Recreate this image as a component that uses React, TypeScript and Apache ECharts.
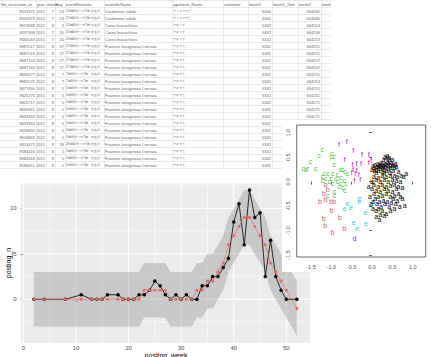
import React, { useEffect, useRef } from 'react';
import * as echarts from 'echarts';

// ---------- time series (posting_n by posting_week) ----------
const weeks = [2, 4, 8, 11, 13, 14, 15, 16, 18, 19, 20, 21, 22, 23, 24, 25, 26, 27, 28, 29, 30, 31, 32, 33, 34, 35, 36, 37, 38, 39, 40, 41, 42, 43, 44, 45, 46, 47, 48, 49, 50, 52];
const observedPosts = [0, 0, 0, 0.5, 0, 0, 0, 0.5, 0.5, 0, 0, 0, 0.5, 0.5, 1, 2, 1.5, 0.5, 0, 0.5, 0, 0.5, 0, 0, 1.5, 1.5, 2.5, 2.5, 3.5, 4.5, 8.5, 10.5, 6, 12, 9, 9.5, 2.5, 6.5, 2.5, 1, 0, 0];
const predictedPosts = [0, 0, 0, 0, 0, 0, 0, 0, 0, 0, 0, 0, 0, 1, 1, 1, 1, 1, 0, 0, 0, 0, 0, 1, 1, 2, 2, 3, 4, 6, 7, 8, 9, 9, 8, 7, 6, 4, 3, 2, 1, -1];
const bandUpper = [3, 3, 3, 3, 3, 3, 3, 3, 3, 3, 3, 3, 3, 4, 4, 4, 4, 4, 3, 3, 3, 3, 3, 4, 4, 5, 5, 6, 7, 9, 10, 11, 12, 12, 11, 10, 9, 7, 6, 5, 4, 2];
const bandLower = [-3, -3, -3, -3, -3, -3, -3, -3, -3, -3, -3, -3, -3, -2, -2, -2, -2, -2, -3, -3, -3, -3, -3, -2, -2, -1, -1, 0, 1, 3, 4, 5, 6, 6, 5, 4, 3, 1, 0, -1, -2, -4];
const weekTicks = [0, 10, 20, 30, 40, 50];
const weekMinor = [5, 15, 25, 35, 45];
const postTicks = [0, 5, 10];
const postMinor = [-2.5, 2.5, 7.5, 12.5];

// ---------- scatter (letters by group) ----------
const scatterTicks = [-1.5, -1, -0.5, 0, 0.5, 1];
const groupA = [
  [0.02, 0.32], [0.05, 0.28], [0.08, 0.35], [0.1, 0.25], [0.12, 0.3], [0.14, 0.38], [0.16, 0.22], [0.18, 0.33], [0.2, 0.27], [0.22, 0.4],
  [0.24, 0.3], [0.25, 0.2], [0.27, 0.35], [0.28, 0.45], [0.3, 0.25], [0.31, 0.38], [0.33, 0.3], [0.35, 0.5], [0.36, 0.22], [0.38, 0.42],
  [0.4, 0.32], [0.41, 0.26], [0.43, 0.46], [0.45, 0.36], [0.46, 0.28], [0.48, 0.4], [0.5, 0.32], [0.52, 0.22], [0.54, 0.36], [0.56, 0.28],
  [0.6, 0.3], [0.65, 0.2], [0.38, 0.54], [0.32, 0.52], [0.42, 0.5], [0.26, 0.28], [0.2, 0.35], [0.15, 0.3], [0.06, 0.22], [0.0, 0.25],
  [0.1, 0.18], [0.3, 0.18], [0.44, 0.18], [0.35, 0.35], [0.28, 0.32], [0.4, 0.4], [0.5, 0.45], [0.58, 0.38],
  [0.0, 0.0], [0.05, -0.05], [0.1, 0.05], [0.15, -0.1], [0.2, 0.0], [0.25, -0.05], [0.3, 0.05], [0.35, -0.1], [0.4, 0.0], [0.45, -0.08],
  [0.5, 0.05], [0.55, -0.05], [0.6, 0.02], [0.65, -0.1], [0.7, 0.0], [0.75, -0.12], [0.0, -0.15], [0.05, -0.25], [0.1, -0.18], [0.15, -0.3],
  [0.2, -0.2], [0.25, -0.28], [0.3, -0.15], [0.35, -0.25], [0.4, -0.18], [0.45, -0.3], [0.5, -0.2], [0.55, -0.28], [0.6, -0.15], [0.65, -0.25],
  [0.7, -0.3], [-0.05, -0.3], [-0.08, -0.1], [0.02, -0.4], [0.08, -0.35], [0.12, -0.45], [0.18, -0.4], [0.22, -0.5], [0.28, -0.38], [0.32, -0.45],
  [0.38, -0.4], [0.42, -0.5], [0.48, -0.42], [0.52, -0.35], [0.58, -0.45], [0.62, -0.38], [0.68, -0.5], [0.75, -0.35], [0.8, -0.48], [0.84, 0.17],
  [0.78, 0.1], [0.72, 0.12], [0.1, -0.6], [0.15, -0.55], [0.2, -0.68], [0.25, -0.6], [0.3, -0.7], [0.1, -0.72], [0.18, -0.78], [0.35, -0.65],
  [0.55, -0.55], [0.45, -0.6], [0.05, 0.1], [0.15, 0.08], [0.35, 0.1], [0.45, 0.12], [0.55, 0.12], [0.62, 0.1], [0.25, 0.12], [0.02, -0.55], [-0.02, -0.45]
];
const groupB = [
  [-1.14, -0.05], [-1.09, -0.17], [-1.18, -0.24], [-1.14, -0.37], [-1.28, -0.41], [-1.01, -0.4], [-0.93, -0.41], [-1.0, -0.6],
  [-0.79, -0.74], [-1.19, -0.76], [-1.15, -0.89], [-0.68, -0.95], [-0.97, -1.04]
];
const groupC = [
  [-1.23, 0.65], [-1.3, 0.53], [-0.99, 0.58], [-1.01, 0.51], [-0.93, 0.52], [-1.51, 0.41], [-1.38, 0.27], [-1.69, 0.27], [-1.59, 0.27], [-1.63, 0.25],
  [-0.93, 0.34], [-0.78, 0.25], [-0.72, 0.24], [-0.67, 0.2], [-0.6, 0.17], [-1.18, 0.17], [-1.09, 0.17], [-0.97, 0.16], [-0.85, 0.14], [-1.22, 0.1],
  [-1.14, 0.07], [-1.01, 0.07], [-0.89, 0.07], [-0.77, 0.09], [-0.68, 0.03], [-1.22, 0.03], [-1.05, 0.0], [-0.97, -0.03], [-0.85, 0.0], [-0.77, -0.03],
  [-0.64, -0.03], [-0.81, -0.1], [-0.72, -0.12], [-0.67, -0.18], [-0.93, -0.2], [-1.09, -0.28], [-0.93, -0.29]
];
const groupD = [[-0.43, -1.17]];
const groupE = [
  [-0.6, -0.44], [-0.68, -0.55], [-0.52, -0.52], [-0.31, -0.34], [-0.31, -0.41], [-0.16, -0.63], [-0.45, -0.83], [-0.15, -0.85], [-0.37, -0.95]
];
const groupF = [
  [-0.81, 0.75], [-0.62, 0.82], [-0.46, 0.63], [-0.25, 0.55], [-0.08, 0.55], [-0.67, 0.46], [-0.48, 0.36], [-0.38, 0.37], [-0.27, 0.37], [-0.08, 0.4],
  [-0.02, 0.43], [-0.46, 0.24], [-0.38, 0.22], [-0.5, 0.19], [-0.41, 0.17], [-0.33, 0.14], [-0.43, 0.03], [-0.29, 0.05]
];
const groupLetters = ['a', 'b', 'c', 'd', 'e', 'f'];
const groupColors = ['#000000', '#DF536B', '#3fbf3f', '#4a4ad8', '#28D8DB', '#CD0BBC'];

// ---------- table ----------
const tableHeaders = ['file_accession_id', 'year', 'month', 'day', 'eventRemarks', 'scientificName', 'japanese_Name', 'comment', 'mesh1', 'mesh1_5km', 'mesh2', 'mesh3'];
const accessionIds = ['8503375', '8503373', '8613688', '8537308', '8565563', '8687017', '8687019', '8687153', '8687163', '8690077', '8682075', '8677490', '8625775', '8625717', '8633361', '8633363', '8633364', '8618690', '8618869', '8624475', '8584416', '8584418', '8584451'];
const obsYears = ['2011', '2011', '2011', '2011', '2011', '2011', '2011', '2011', '2011', '2011', '2011', '2011', '2011', '2011', '2011', '2011', '2011', '2011', '2011', '2011', '2011', '2011', '2011'];
const obsMonths = ['7', '7', '8', '7', '7', '8', '8', '8', '8', '8', '8', '8', '8', '8', '8', '8', '8', '8', '8', '8', '8', '8', '8'];
const obsDays = ['23', '23', '2', '20', '20', '27', '27', '27', '27', '7', '7', '5', '5', '5', '5', '5', '5', '5', '5', '28', '5', '5', '5'];
const remarkTimes = ['23時00分〜翌7時', '23時00分〜翌7時', '23時00分〜翌7時', '20時00分〜翌7時', '20時00分〜翌7時', '27時00分〜翌7時', '27時00分〜翌7時', '27時00分〜翌7時', '27時00分〜翌7時', '7時00分〜翌7時', '7時00分〜翌7時', '5時00分〜翌7時', '5時00分〜翌7時', '5時00分〜翌7時', '5時00分〜翌7時', '5時00分〜翌7時', '5時00分〜翌7時', '5時00分〜翌7時', '5時00分〜翌7時', '28時00分〜翌7時', '5時00分〜翌7時', '5時00分〜翌7時', '5時00分〜翌7時'];
const remarkPlace = '長生郡';
const sciNames = ['Cardamine valida', 'Cardamine valida', 'Carex leucochlora', 'Carex leucochlora', 'Carex leucochlora', 'Fraxinus lanuginosa f.serrata', 'Fraxinus lanuginosa f.serrata', 'Fraxinus lanuginosa f.serrata', 'Fraxinus lanuginosa f.serrata', 'Fraxinus lanuginosa f.serrata', 'Fraxinus lanuginosa f.serrata', 'Fraxinus lanuginosa f.serrata', 'Fraxinus lanuginosa f.serrata', 'Fraxinus lanuginosa f.serrata', 'Fraxinus lanuginosa f.serrata', 'Fraxinus lanuginosa f.serrata', 'Fraxinus lanuginosa f.serrata', 'Fraxinus lanuginosa f.serrata', 'Fraxinus lanuginosa f.serrata', 'Fraxinus lanuginosa f.serrata', 'Fraxinus lanuginosa f.serrata', 'Fraxinus lanuginosa f.serrata', 'Fraxinus lanuginosa f.serrata'];
const jpNames = ['アイヌワサビ', 'アイヌワサビ', 'アオスゲ', 'アオスゲ', 'アオスゲ', 'アオダモ', 'アオダモ', 'アオダモ', 'アオダモ', 'アオダモ', 'アオダモ', 'アオダモ', 'アオダモ', 'アオダモ', 'アオダモ', 'アオダモ', 'アオダモ', 'アオダモ', 'アオダモ', 'アオダモ', 'アオダモ', 'アオダモ', 'アオダモ'];
const mesh1Codes = ['6440', '6440', '6442', '6442', '6442', '6342', '6342', '6342', '6342', '6342', '6342', '6342', '6342', '6342', '6342', '6342', '6342', '6342', '6342', '6342', '6342', '6342', '6342'];
const mesh2Codes = ['644060', '644060', '644204', '644206', '644213', '634251', '634251', '634207', '634207', '634251', '634253', '634251', '634251', '634271', '634271', '634271', '634271', '634256', '634256', '634256', '634256', '', ''];

const FONT = '"Liberation Sans", Arial, sans-serif';
const TS_X = [-0.5, 54.5];
const TS_Y = [-4.77, 12.75];

function buildTable(): any[] {
  const edges = [0, 36, 46, 55, 65, 104, 172, 223, 248, 272, 298, 321, 331];
  const rightAligned = [true, true, true, true, false, false, false, false, true, false, true, false];
  const rowH = 7;
  const nRows = accessionIds.length;
  const els: any[] = [];
  const bottom = rowH * (nRows + 1);
  for (let r = 0; r <= nRows + 1; r++) {
    const y = r * rowH + 0.5;
    els.push({ type: 'line', z: 1, shape: { x1: 0, y1: y, x2: edges[edges.length - 1], y2: y }, style: { stroke: '#dcdcdc', lineWidth: 0.6 } });
  }
  for (let c = 1; c < edges.length; c++) {
    els.push({ type: 'line', z: 1, shape: { x1: edges[c] + 0.5, y1: 0, x2: edges[c] + 0.5, y2: bottom }, style: { stroke: '#dcdcdc', lineWidth: 0.6 } });
  }
  const txt = (text: string, c: number, y: number, color: string, size: number, right: boolean) => ({
    type: 'text', z: 2,
    style: {
      text, x: right ? edges[c + 1] - 1 : edges[c] + 1, y,
      fill: color, fontSize: size, fontFamily: FONT,
      textAlign: right ? 'right' : 'left', align: right ? 'right' : 'left',
      textVerticalAlign: 'middle', verticalAlign: 'middle'
    }
  });
  tableHeaders.forEach((h, c) => els.push(txt(h, c, rowH / 2 + 0.5, '#555', 4, false)));
  for (let i = 0; i < nRows; i++) {
    const y = (i + 1) * rowH + rowH / 2 + 0.5;
    const cells = [accessionIds[i], obsYears[i], obsMonths[i], obsDays[i], remarkTimes[i], sciNames[i], jpNames[i], '', mesh1Codes[i], '', mesh2Codes[i], ''];
    cells.forEach((v, c) => {
      if (!v) return;
      const isJp = c === 4 || c === 6;
      els.push(txt(v, c, y, '#666', isJp ? 3.2 : 4, rightAligned[c]));
    });
    els.push({ type: 'text', z: 2, style: { text: remarkPlace, x: 91, y, fill: '#666', fontSize: 3.2, fontFamily: FONT, textAlign: 'left', align: 'left', textVerticalAlign: 'middle', verticalAlign: 'middle' } });
  }
  return els;
}

export default function App() {
  const ref = useRef<HTMLDivElement>(null);
  useEffect(() => {
    document.body.style.margin = '0';
    const chart = echarts.init(ref.current as HTMLDivElement, null, { renderer: 'svg' });
    const groups = [groupA, groupB, groupC, groupD, groupE, groupF];

    const option: any = {
      animation: false,
      backgroundColor: '#ffffff',
      textStyle: { fontFamily: FONT },
      grid: [
        { left: 20.7, top: 183.3, width: 289.3, height: 159.4, show: true, backgroundColor: '#ebebeb', borderWidth: 0, z: 0 },
        { left: 296.7, top: 125, width: 129, height: 132, show: true, backgroundColor: 'rgba(0,0,0,0)', borderColor: '#444', borderWidth: 0.8, z: 20 }
      ],
      xAxis: [
        {
          gridIndex: 0, type: 'value', min: TS_X[0], max: TS_X[1],
          axisLine: { show: false }, splitLine: { show: false },
          axisTick: { show: true, customValues: weekTicks, length: 2.7, lineStyle: { color: '#333', width: 0.8 } },
          axisLabel: { customValues: weekTicks, color: '#4d4d4d', fontSize: 6, margin: 2.5, fontFamily: FONT }
        },
        {
          gridIndex: 1, type: 'value', min: -1.851, max: 1.319, z: 20,
          axisLine: { show: false }, splitLine: { show: false },
          axisTick: { show: true, customValues: scatterTicks, length: 3, lineStyle: { color: '#444', width: 0.8 } },
          axisLabel: { customValues: scatterTicks, color: '#555', fontSize: 5.5, margin: 7, fontFamily: FONT, formatter: (v: number) => v.toFixed(1) }
        }
      ],
      yAxis: [
        {
          gridIndex: 0, type: 'value', min: TS_Y[0], max: TS_Y[1],
          axisLine: { show: false }, splitLine: { show: false },
          axisTick: { show: true, customValues: postTicks, length: 2.7, lineStyle: { color: '#333', width: 0.8 } },
          axisLabel: { customValues: postTicks, color: '#4d4d4d', fontSize: 6, margin: 4, fontFamily: FONT }
        },
        {
          gridIndex: 1, type: 'value', min: -1.54, max: 1.157, z: 20,
          axisLine: { show: false }, splitLine: { show: false },
          axisTick: { show: true, customValues: scatterTicks, length: 3, lineStyle: { color: '#444', width: 0.8 } },
          axisLabel: { customValues: scatterTicks, color: '#555', fontSize: 5.5, margin: 5.5, rotate: 90, fontFamily: FONT, formatter: (v: number) => v.toFixed(1) }
        }
      ],
      graphic: {
        elements: [
          ...buildTable(),
          { type: 'rect', z: 10, shape: { x: 331, y: 0, width: 100, height: 122 }, style: { fill: '#ffffff' } },
          { type: 'rect', z: 10, shape: { x: 282, y: 121, width: 149, height: 151 }, style: { fill: '#ffffff' } },
          {
            type: 'text', z: 3, x: 8, y: 263, rotation: Math.PI / 2,
            style: { text: 'posting_n', fill: '#000', fontSize: 7, fontFamily: FONT, textAlign: 'center', align: 'center', textVerticalAlign: 'middle', verticalAlign: 'middle' }
          },
          {
            type: 'text', z: 3,
            style: { text: 'posting_week', x: 166, y: 352, fill: '#000', fontSize: 7, fontFamily: FONT, textAlign: 'center', align: 'center', textVerticalAlign: 'top', verticalAlign: 'top' }
          }
        ]
      },
      series: [
        {
          type: 'custom', xAxisIndex: 0, yAxisIndex: 0, z: 1, silent: true,
          data: weeks.map((w, i) => [w, bandLower[i], bandUpper[i]]),
          encode: { x: 0, y: [1, 2] },
          renderItem: (params: any, api: any) => {
            if (params.dataIndex !== 0) return { type: 'group', children: [] };
            const children: any[] = [];
            const vLine = (v: number, w: number) => {
              const a = api.coord([v, TS_Y[0]]);
              const b = api.coord([v, TS_Y[1]]);
              children.push({ type: 'line', shape: { x1: a[0], y1: a[1], x2: b[0], y2: b[1] }, style: { stroke: '#ffffff', lineWidth: w } });
            };
            const hLine = (v: number, w: number) => {
              const a = api.coord([TS_X[0], v]);
              const b = api.coord([TS_X[1], v]);
              children.push({ type: 'line', shape: { x1: a[0], y1: a[1], x2: b[0], y2: b[1] }, style: { stroke: '#ffffff', lineWidth: w } });
            };
            weekMinor.forEach((v) => vLine(v, 0.5));
            postMinor.forEach((v) => hLine(v, 0.5));
            weekTicks.forEach((v) => vLine(v, 1));
            postTicks.forEach((v) => hLine(v, 1));
            const pts: number[][] = [];
            for (let i = 0; i < weeks.length; i++) pts.push(api.coord([weeks[i], bandUpper[i]]));
            for (let i = weeks.length - 1; i >= 0; i--) pts.push(api.coord([weeks[i], bandLower[i]]));
            children.push({ type: 'polygon', shape: { points: pts }, style: { fill: 'rgba(120,120,120,0.3)' } });
            return { type: 'group', children };
          }
        },
        {
          type: 'line', xAxisIndex: 0, yAxisIndex: 0, z: 4, silent: true,
          data: weeks.map((w, i) => [w, observedPosts[i]]),
          symbol: 'circle', symbolSize: 3.5,
          itemStyle: { color: '#000000' },
          lineStyle: { color: '#000000', width: 0.8 }
        },
        {
          type: 'line', xAxisIndex: 0, yAxisIndex: 0, z: 5, silent: true,
          data: weeks.map((w, i) => [w, predictedPosts[i]]),
          symbol: 'circle', symbolSize: 3,
          itemStyle: { color: '#e46a64' },
          lineStyle: { color: '#e46a64', width: 0.6 }
        },
        ...groups.map((g, gi) => ({
          type: 'custom', xAxisIndex: 1, yAxisIndex: 1, z: 21, silent: true,
          data: g,
          encode: { x: 0, y: 1 },
          renderItem: (params: any, api: any) => {
            const p = api.coord([api.value(0), api.value(1)]);
            return {
              type: 'text', x: p[0], y: p[1],
              style: {
                text: groupLetters[gi], fill: groupColors[gi], fontSize: 7, fontFamily: FONT,
                textAlign: 'center', align: 'center', textVerticalAlign: 'middle', verticalAlign: 'middle'
              }
            };
          }
        }))
      ]
    };
    chart.setOption(option);
    return () => chart.dispose();
  }, []);
  return <div ref={ref} style={{ position: 'absolute', left: 0, top: 0, width: 431, height: 357, background: '#fff' }} />;
}
